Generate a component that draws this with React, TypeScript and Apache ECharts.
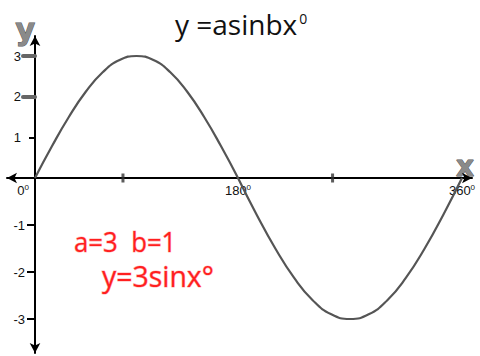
import React, { useEffect, useRef } from "react";
import * as echarts from "echarts";

// Sample points of the curve y = 3·sin(x°), read every 15°
const DEGREES = [0, 15, 30, 45, 60, 75, 90, 105, 120, 135, 150, 165, 180, 195, 210, 225, 240, 255, 270, 285, 300, 315, 330, 345, 360];
const Y_VALUES = [0, 0.78, 1.5, 2.12, 2.6, 2.9, 3, 2.9, 2.6, 2.12, 1.5, 0.78, 0, -0.78, -1.5, -2.12, -2.6, -2.9, -3, -2.9, -2.6, -2.12, -1.5, -0.78, 0];

// Axis labelling
const Y_LABELS_UPPER = [1, 2, 3];
const Y_LABELS_LOWER = [-1, -2, -3];
const Y_BOLD_TICKS = [2, 3];
const X_MINOR_TICKS = [78, 256];

const TITLE_MAIN = "y =asinbx";
const TITLE_SUP = "0";
const NOTE_LINE_1 = "a=3  b=1";
const NOTE_LINE_2 = "y=3sinx°";

const LABEL_FONT = "Liberation Sans, Arial, sans-serif";

export default function App() {
  const ref = useRef<HTMLDivElement>(null);

  useEffect(() => {
    if (!ref.current) return;
    const chart = echarts.init(ref.current, undefined, { renderer: "svg" });

    const points = DEGREES.map((d, i) => [d, Y_VALUES[i]]);
    const upper = points.filter(([d]) => d <= 180);
    const lower = points.filter(([d]) => d >= 180);

    const degLabel = (v: number) => (v === 0 ? `{n|${v}}{s|0}{gap|}` : `{n|${v}}{s|0}`);
    const degRich = {
      n: { fontSize: 13, fontFamily: LABEL_FONT, color: "#111", lineHeight: 15 },
      s: { fontSize: 8, fontFamily: LABEL_FONT, color: "#111", verticalAlign: "top", lineHeight: 9 },
      gap: { width: 6 },
    };

    const arrowLine = {
      show: true,
      onZero: true,
      symbol: ["arrow", "arrow"],
      symbolSize: [8, 10],
      lineStyle: { color: "#000", width: 2 },
    };

    const axisNameStyle = {
      fontSize: 30,
      fontWeight: "bold",
      fontFamily: "DejaVu Sans, sans-serif",
      color: "#8a8a8a",
      textBorderColor: "#555",
      textBorderWidth: 1,
    };

    const noteStyle = {
      fontFamily: "Open Sans, sans-serif",
      fill: "#ff1f1f",
      stroke: "rgba(255,90,90,0.45)",
      lineWidth: 1.2,
      textAlign: "left",
      align: "left",
      textVerticalAlign: "top",
      verticalAlign: "top",
    };

    chart.setOption({
      animation: false,
      backgroundColor: "#fff",
      title: {
        text: `{m|${TITLE_MAIN}}{s|${TITLE_SUP}}`,
        left: 170,
        top: 0,
        textStyle: {
          fontWeight: "normal",
          rich: {
            m: { fontSize: 28, fontWeight: "normal", fontFamily: "Open Sans, sans-serif", color: "#111", lineHeight: 38 },
            s: { fontSize: 14, fontWeight: "normal", fontFamily: "Open Sans, sans-serif", color: "#111", verticalAlign: "top", lineHeight: 16, padding: [6, 0, 0, 2] },
          },
        },
      },
      grid: [
        // frame carrying the two arrowed axes (units are pixels)
        { left: 7, top: 36, width: 465, height: 317 },
        // upper half-wave, 0°..180°, 0..3
        { left: 35, top: 56, width: 203, height: 122 },
        // lower half-wave, 180°..360°, -3..0
        { left: 238, top: 178, width: 224, height: 141 },
      ],
      xAxis: [
        {
          gridIndex: 0,
          type: "value",
          min: -28,
          max: 437,
          axisLine: arrowLine,
          axisTick: { show: false },
          axisLabel: { show: false },
          splitLine: { show: false },
          name: "x",
          nameLocation: "end",
          nameGap: -16,
          nameTextStyle: { ...axisNameStyle, fontSize: 28, align: "left", verticalAlign: "bottom", lineHeight: 24 },
        },
        {
          gridIndex: 1,
          type: "value",
          position: "bottom",
          min: 0,
          max: 180,
          interval: 180,
          axisLine: { show: false, onZero: false },
          axisTick: { show: false },
          splitLine: { show: false },
          axisLabel: { margin: 5, formatter: degLabel, rich: degRich, alignMinLabel: "right" },
        },
        {
          gridIndex: 2,
          type: "value",
          position: "top",
          min: 180,
          max: 360,
          interval: 180,
          axisLine: { show: false, onZero: false },
          axisTick: { show: false },
          splitLine: { show: false },
          axisLabel: { inside: true, margin: 5, showMinLabel: false, formatter: degLabel, rich: degRich, alignMaxLabel: "center" },
        },
      ],
      yAxis: [
        {
          gridIndex: 0,
          type: "value",
          min: -175,
          max: 142,
          axisLine: arrowLine,
          axisTick: { show: false },
          axisLabel: { show: false },
          splitLine: { show: false },
          name: "y",
          nameLocation: "end",
          nameGap: -8,
          nameTextStyle: { ...axisNameStyle, align: "right" },
        },
        {
          gridIndex: 1,
          type: "value",
          position: "left",
          min: 0,
          max: 3,
          interval: 1,
          axisLine: { show: false, onZero: false },
          axisTick: { show: true, customValues: [1], length: 6, lineStyle: { color: "#000", width: 2 } },
          axisLabel: {
            customValues: Y_LABELS_UPPER,
            formatter: (v: number) => (v === 0 ? "" : String(v)),
            margin: 14,
            fontSize: 13,
            fontFamily: LABEL_FONT,
            color: "#111",
          },
          splitLine: { show: false },
        },
        {
          gridIndex: 1,
          type: "value",
          position: "left",
          min: 0,
          max: 3,
          interval: 1,
          axisLine: { show: false, onZero: false },
          axisTick: { show: true, customValues: Y_BOLD_TICKS, length: 12, lineStyle: { color: "#666", width: 4, cap: "round" } },
          axisLabel: { show: false },
          splitLine: { show: false },
        },
        {
          gridIndex: 2,
          type: "value",
          position: "left",
          offset: 203,
          min: -3,
          max: 0,
          interval: 1,
          axisLine: { show: false, onZero: false },
          axisTick: { show: true, customValues: Y_LABELS_LOWER, length: 8, lineStyle: { color: "#000", width: 2 } },
          axisLabel: {
            customValues: Y_LABELS_LOWER,
            formatter: (v: number) => (v === 0 ? "" : String(v)),
            margin: 10,
            fontSize: 13,
            fontFamily: LABEL_FONT,
            color: "#111",
          },
          splitLine: { show: false },
        },
      ],
      series: [
        {
          type: "line",
          xAxisIndex: 1,
          yAxisIndex: 1,
          data: upper,
          smooth: true,
          showSymbol: false,
          clip: false,
          lineStyle: { color: "#555", width: 2.2 },
        },
        {
          type: "line",
          xAxisIndex: 2,
          yAxisIndex: 3,
          data: lower,
          smooth: true,
          showSymbol: false,
          clip: false,
          lineStyle: { color: "#555", width: 2.2 },
        },
        {
          type: "scatter",
          xAxisIndex: 1,
          yAxisIndex: 1,
          data: X_MINOR_TICKS.filter((d) => d <= 180).map((d) => [d, 0]),
          symbol: "rect",
          symbolSize: [3, 9],
          clip: false,
          itemStyle: { color: "#333" },
        },
        {
          type: "scatter",
          xAxisIndex: 2,
          yAxisIndex: 3,
          data: X_MINOR_TICKS.filter((d) => d > 180).map((d) => [d, 0]),
          symbol: "rect",
          symbolSize: [3, 9],
          clip: false,
          itemStyle: { color: "#333" },
        },
      ],
      graphic: [
        {
          type: "text",
          x: 74,
          y: 227,
          scaleX: 0.92,
          style: { ...noteStyle, text: NOTE_LINE_1, fontSize: 28 },
        },
        {
          type: "text",
          x: 102,
          y: 261,
          scaleX: 0.98,
          style: { ...noteStyle, text: NOTE_LINE_2, fontSize: 29 },
        },
      ],
    });

    return () => chart.dispose();
  }, []);

  return (
    <div
      ref={ref}
      style={{ position: "fixed", left: 0, top: 0, width: 480, height: 356 }}
    />
  );
}
